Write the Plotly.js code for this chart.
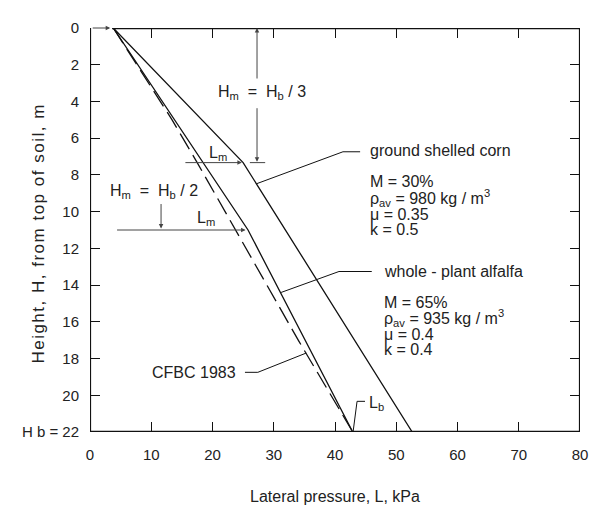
<!DOCTYPE html>
<html><head><meta charset="utf-8">
<script src="https://cdn.plot.ly/plotly-3.0.1.min.js"></script>
<style>body{margin:0;background:#fff}#c{width:589px;height:508px}</style>
</head><body><div id="c"></div>
<script>
// Data: depth H (m) and lateral pressure L (kPa)
const cornDepth = [0, 7.33, 22];
const cornPressure = [3.8, 25.0, 52.6];
const alfalfaDepth = [0, 11, 22];
const alfalfaPressure = [3.8, 25.8, 42.9];
const cfbcDepth = [0, 5, 7.33, 11, 17, 22];
const cfbcPressure = [3.8, 13.4, 17.5, 23.8, 34.0, 42.9];
const xTicks = [0, 10, 20, 30, 40, 50, 60, 70, 80];
const yTicks = [0, 2, 4, 6, 8, 10, 12, 14, 16, 18, 20, 22];
const yTickText = ['0', '2', '4', '6', '8', '10', '12', '14', '16', '18', '20', 'H b = 22'];
const yTitle = 'Height, H, from top of soil, m';

const ink = '#111';
const txt = '#222';
const F = 'Liberation Sans, Arial, Helvetica, sans-serif';
const NB = '\u00a0';

const traces = [
  {x: cornPressure, y: cornDepth, mode: 'lines', line: {color: ink, width: 1.3}, hoverinfo: 'skip'},
  {x: alfalfaPressure, y: alfalfaDepth, mode: 'lines', line: {color: ink, width: 1.3}, hoverinfo: 'skip'},
  {x: cfbcPressure, y: cfbcDepth, mode: 'lines', line: {color: ink, width: 1.3, dash: '18px,7px'}, hoverinfo: 'skip'}
];

function seg(x0, y0, x1, y1, w, c) {
  return {type: 'line', xref: 'x', yref: 'y', x0: x0, y0: y0, x1: x1, y1: y1,
          line: {color: c || ink, width: w || 1}};
}
function lbl(x, y, text, anchor) {
  return {x: x, y: y, xref: 'x', yref: 'y', text: text, showarrow: false,
          xanchor: anchor || 'left', yanchor: 'middle', font: {family: F, size: 16, color: txt}};
}
function arr(x, y, ax, ay) {
  return {x: x, y: y, xref: 'x', yref: 'y', text: '', showarrow: true, ax: ax, ay: ay,
          arrowhead: 2, arrowsize: 0.9, arrowwidth: 1, arrowcolor: '#444'};
}

const shapes = [
  // frame
  seg(0, 0, 0, 22, 2.2),
  seg(0, 22, 80, 22, 2.5),
  seg(80, 0, 80, 22, 2.2),
  seg(3.6, 0, 80, 0, 2.6),
  // tick bar at Hm
  seg(26.1, 7.33, 28.6, 7.33, 1, '#444'),
  // leaders
  seg(27.2, 8.48, 41.3, 6.74), seg(41.3, 6.74, 44.1, 6.74),
  seg(31.2, 14.4, 40.65, 13.26), seg(40.65, 13.26, 46.0, 13.26),
  seg(25.3, 18.75, 27.4, 18.75), seg(27.4, 18.75, 35.3, 17.7),
  seg(42.95, 22, 43.6, 20.33), seg(43.6, 20.33, 44.9, 20.33)
];

const annotations = [
  {x: -0.106, y: 0.49, xref: 'paper', yref: 'paper', text: yTitle, showarrow: false,
   textangle: -90, xanchor: 'center', yanchor: 'middle', font: {family: F, size: 17, color: txt}},
  lbl(2.94, -0.71, 'L<sub>0</sub> = 0.4'),
  arr(3.3, 0, -19, 0),
  lbl(28.1, 3.53, 'H<sub>m</sub>' + NB + NB + '=' + NB + NB + 'H<sub>b</sub> / 3', 'center'),
  arr(27.27, 0, 0, 52),
  arr(27.27, 7.28, 0, -55),
  lbl(20.9, 6.85, 'L<sub>m</sub>', 'center'),
  arr(24.8, 7.33, -58, 0),
  lbl(10.37, 8.91, 'H<sub>m</sub>' + NB + NB + '=' + NB + NB + 'H<sub>b</sub> / 2', 'center'),
  arr(11.6, 10.92, 0, -26),
  lbl(18.9, 10.38, 'L<sub>m</sub>', 'center'),
  arr(25.4, 11, -130, 0),
  lbl(45.4, 6.68, 'ground shelled corn'),
  lbl(45.4, 8.37, 'M = 30%'),
  lbl(45.4, 9.24, '\u03c1<sub>av</sub> = 980 kg / m<sup>3</sup>'),
  lbl(45.4, 10.16, '\u03bc = 0.35'),
  lbl(45.4, 10.98, 'k = 0.5'),
  lbl(47.67, 13.26, 'whole - plant alfalfa'),
  lbl(47.67, 14.95, 'M = 65%'),
  lbl(47.67, 15.8, '\u03c1<sub>av</sub> = 935 kg / m<sup>3</sup>'),
  lbl(47.67, 16.68, '\u03bc = 0.4'),
  lbl(47.67, 17.5, 'k = 0.4'),
  lbl(24.16, 18.75, 'CFBC 1983', 'right'),
  lbl(45.2, 20.43, 'L<sub>b</sub>')
];

const layout = {
  width: 589, height: 508,
  margin: {l: 90, r: 9, t: 28, b: 76},
  paper_bgcolor: '#fff', plot_bgcolor: '#fff',
  showlegend: false,
  font: {family: F, size: 15, color: txt},
  xaxis: {
    range: [0, 80], tickvals: xTicks, ticktext: xTicks.map(String),
    ticks: 'inside', ticklen: 10, tickwidth: 1, tickcolor: ink,
    showline: false, mirror: 'ticks', showgrid: false, zeroline: false,
    ticklabelstandoff: 12,
    tickfont: {family: F, size: 15, color: txt},
    title: {text: 'Lateral pressure, L, kPa', font: {family: F, size: 16, color: txt}, standoff: 28}
  },
  yaxis: {
    range: [22, 0], tickvals: yTicks, ticktext: yTickText,
    ticks: 'inside', ticklen: 10, tickwidth: 1, tickcolor: ink,
    showline: false, mirror: 'ticks', showgrid: false, zeroline: false,
    ticklabelstandoff: 10,
    tickfont: {family: F, size: 15, color: txt}
  },
  shapes: shapes,
  annotations: annotations
};

Plotly.newPlot('c', traces, layout, {staticPlot: true, displayModeBar: false}).then(function () {
  document.querySelectorAll('.annotation-text').forEach(function (t) {
    if (t.textContent === yTitle) t.style.letterSpacing = '1.5px';
  });
});
</script>
</body></html>
